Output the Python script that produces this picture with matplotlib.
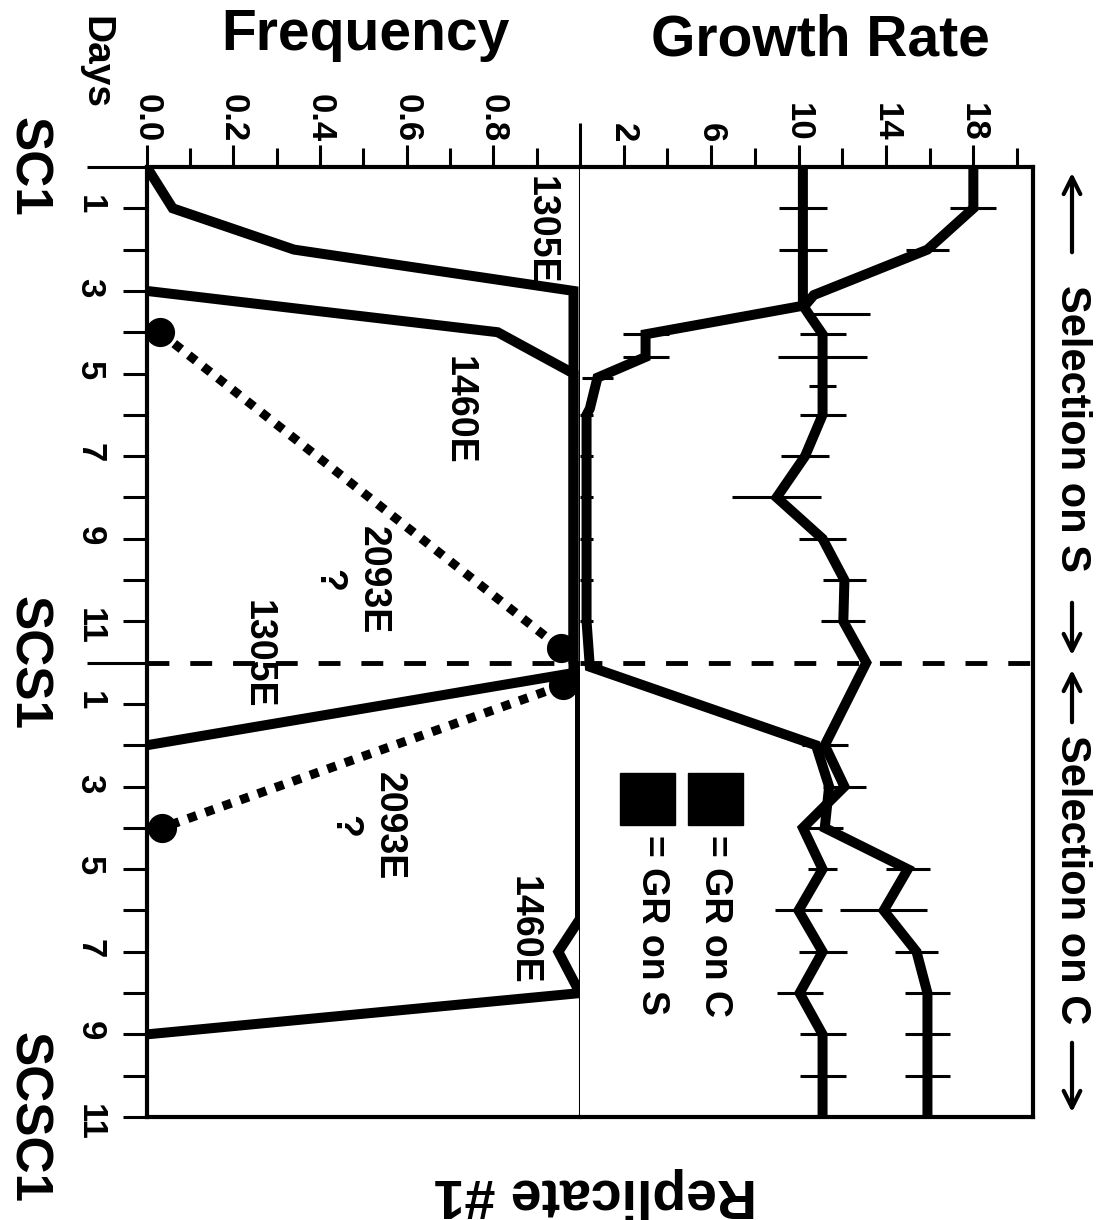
import matplotlib
matplotlib.use("Agg")
import matplotlib.pyplot as plt
from matplotlib.patches import Rectangle, FancyArrowPatch

plt.rcParams['font.family'] = ['Liberation Sans', 'DejaVu Sans']
plt.rcParams['font.weight'] = 'bold'

W, H = 1097, 1220

# days run continuously: SC1 = 0..12, SCS1 = 12..23
# frequency of each mutation
f1305_days = [0, 1, 2, 3, 12.25, 14]
f1305_vals = [0.0, 0.06, 0.34, 0.985, 0.985, 0.0]
f1460_days = [3, 4, 5, 12, 12.5, 18.2, 19, 20, 21]
f1460_vals = [0.0, 0.81, 0.985, 0.985, 1.0, 1.0, 0.95, 1.0, 0.0]
f2093a_days = [4, 11.65]
f2093a_vals = [0.03, 0.955]
f2093b_days = [12.55, 16.0]
f2093b_vals = [0.96, 0.035]

# growth rates with error bars (lo / hi half widths)
grA_days = [0, 1, 2, 3.35, 3.55, 4.05, 4.6, 5.3, 6, 7, 8, 9, 10, 11, 12,
            14, 15, 16, 17, 18, 19, 20, 21, 22, 23]
grA_vals = [10.2, 10.2, 10.2, 10.2, 10.45, 11.1, 11.1, 11.1, 11.1, 10.3, 9.0, 11.1, 12.1, 12.05, 13.1,
            11.2, 12.1, 10.2, 11.1, 10.0, 11.1, 10.05, 11.1, 11.1, 11.1]
grA_lo = [0, 1.1, 1.1, 0, 0, 1.05, 2.05, 0.6, 1.05, 1.1, 2.05, 1.07, 1.0, 1.0, 0,
          1.05, 1.0, 0, 0.65, 1.07, 1.1, 1.05, 1.05, 1.05, 0]
grA_hi = [0, 1.1, 1.1, 0, 2.8, 1.05, 2.05, 0.6, 1.05, 1.1, 2.05, 1.07, 1.0, 1.0, 0,
          1.05, 1.0, 0, 0.65, 1.07, 1.1, 1.05, 1.05, 1.05, 0]

grB_days = [0, 1, 2, 3.1, 3.35, 4.05, 4.6, 5.1, 5.85, 6, 7, 8, 9, 10, 11, 12.1,
            14, 15, 16, 17, 18, 19, 20, 21, 22, 23]
grB_vals = [18.0, 18.0, 15.9, 10.7, 10.3, 3.0, 3.0, 0.8, 0.45, 0.3, 0.3, 0.3, 0.3, 0.3, 0.3, 0.45,
            10.8, 11.4, 11.2, 15.0, 13.9, 15.4, 15.9, 15.9, 15.9, 15.9]
grB_err = [0, 1.05, 1.0, 0, 0, 1.05, 1.05, 0.7, 0, 0.3, 0.3, 0.3, 0.3, 0.3, 0.3, 0,
           0, 0, 0.85, 1.0, 2.0, 1.0, 1.05, 1.05, 1.05, 0]

freq_ticks = [0.0, 0.2, 0.4, 0.6, 0.8]
freq_labels = ['0.0', '0.2', '0.4', '0.6', '0.8']
gr_ticks = [2, 6, 10, 14, 18]
gr_labels = ['2', '6', '10', '14', '18']
day_ticks = [1, 2, 3, 4, 5, 6, 7, 8, 9, 10, 11, 13, 14, 15, 16, 17, 18, 19, 20, 21, 22, 23]
day_labels = ['1', '', '3', '', '5', '', '7', '', '9', '', '11',
              '1', '', '3', '', '5', '', '7', '', '9', '', '11']


def px(x, y):
    return x / W, 1 - y / H


fig = plt.figure(figsize=(W / 100, H / 100), dpi=100)
ax_f = fig.add_axes([146.7 / W, 1 - 1117 / H, 433.3 / W, 950 / H])
ax_g = fig.add_axes([580 / W, 1 - 1117 / H, 453 / W, 950 / H])

for ax in (ax_f, ax_g):
    ax.set_ylim(23, 0)
    ax.xaxis.tick_top()
    for s in ax.spines.values():
        s.set_linewidth(3)
    ax.axhline(12, color='k', lw=3.5, dashes=(4.5, 4.3), zorder=1)
ax_f.spines['right'].set_visible(False)
ax_g.spines['left'].set_visible(False)

ax_f.set_xlim(0, 1)
ax_g.set_xlim(0, 20.73)

ax_f.set_xticks(freq_ticks, labels=freq_labels)
ax_f.set_xticks([0.1, 0.3, 0.5, 0.7, 0.9], minor=True)
ax_g.set_xticks(gr_ticks, labels=gr_labels)
ax_g.set_xticks([4, 8, 12, 16, 20], minor=True)
for ax in (ax_f, ax_g):
    ax.tick_params(axis='x', which='major', length=16, width=2.2, labelsize=25,
                   pad=2, labelrotation=-90)
    ax.tick_params(axis='x', which='minor', length=14, width=2.2)

ax_f.set_yticks(day_ticks, labels=day_labels)
ax_f.set_yticks([0, 12], minor=True)
ax_f.tick_params(axis='y', which='major', length=17, width=2.2, labelsize=25,
                 pad=12, labelrotation=-90)
ax_f.tick_params(axis='y', which='minor', length=43, width=2.2)
ax_g.tick_params(axis='y', which='both', left=False, labelleft=False)

# divider between the two panels, runs above the top spine
ax_f.plot([1, 1], [0, 1.0463], transform=ax_f.transAxes, color='k', lw=2.2,
          clip_on=False, solid_capstyle='butt', zorder=5)

# frequencies
lw = 7.2
ax_f.plot(f1305_vals, f1305_days, color='k', lw=lw, solid_joinstyle='miter', zorder=3)
ax_f.plot(f1460_vals, f1460_days, color='k', lw=lw, solid_joinstyle='miter', zorder=3)
for fv, fd in ((f2093a_vals, f2093a_days), (f2093b_vals, f2093b_days)):
    ax_f.plot(fv, fd, color='k', lw=6.5, linestyle=(0, (1, 1.05)),
              dash_capstyle='butt', zorder=3)
    ax_f.plot(fv, fd, 'o', color='k', ms=20, clip_on=False, zorder=4)

# growth rates
ax_g.plot(grA_vals, grA_days, color='k', lw=lw, solid_joinstyle='miter', zorder=3)
ax_g.plot(grB_vals, grB_days, color='k', lw=lw, solid_joinstyle='miter', zorder=3)
ax_g.errorbar(grA_vals, grA_days, xerr=[grA_lo, grA_hi], fmt='none', ecolor='k',
              elinewidth=2.2, capsize=0, zorder=3)
ax_g.errorbar(grB_vals, grB_days, xerr=grB_err, fmt='none', ecolor='k',
              elinewidth=2.2, capsize=0, zorder=3)

# mutation labels
lab = dict(rotation=-90, ha='center', va='center', fontsize=27)
ax_f.text(0.908, 1.53, '1305E', **lab)
ax_f.text(0.72, 5.88, '1460E', **lab)
ax_f.text(0.471, 10.0, '2093E\n?', linespacing=1.3, **lab)
ax_f.text(0.257, 11.8, '1305E', **lab)
ax_f.text(0.507, 15.96, '2093E\n?', linespacing=1.3, **lab)
ax_f.text(0.871, 18.47, '1460E', **lab)

# legend
ax_g.add_patch(Rectangle((1.83, 14.67), 2.52, 1.26, color='k', zorder=3))
ax_g.add_patch(Rectangle((4.94, 14.67), 2.52, 1.26, color='k', zorder=3))
ax_g.text(3.3, 16.17, '= GR on S', rotation=-90, ha='center', va='top', fontsize=27)
ax_g.text(6.2, 16.17, '= GR on C', rotation=-90, ha='center', va='top', fontsize=27)

# axis titles
fig.text(*px(365, 35), 'Frequency', ha='center', va='center', fontsize=41)
fig.text(*px(820, 40), 'Growth Rate', ha='center', va='center', fontsize=41)
fig.text(*px(595, 1193), 'Replicate #1', ha='center', va='center', fontsize=40,
         rotation=180)
fig.text(*px(95, 63), 'Days', ha='center', va='center', fontsize=28, rotation=-90)
ytr = ax_f.get_yaxis_transform()
for d, name in ((0, 'SC1'), (12, 'SCS1'), (23, 'SCSC1')):
    ax_f.text(-0.274, d, name, transform=ytr, rotation=-90, ha='center',
              va='center', fontsize=37)

# selection phases on the right
side = dict(rotation=-90, ha='center', va='center', fontsize=30)
fig.text(*px(1072, 428), 'Selection on S', **side)
fig.text(*px(1072, 880), 'Selection on C', **side)
arr = dict(arrowstyle='->', lw=3, color='k', mutation_scale=30)
for y0, y1 in ((255, 170), (600, 658), (725, 667), (1040, 1115)):
    fig.add_artist(FancyArrowPatch(px(1072, y0), px(1072, y1),
                                   transform=fig.transFigure, **arr))

fig.savefig('out.png', dpi=100, facecolor='white')
